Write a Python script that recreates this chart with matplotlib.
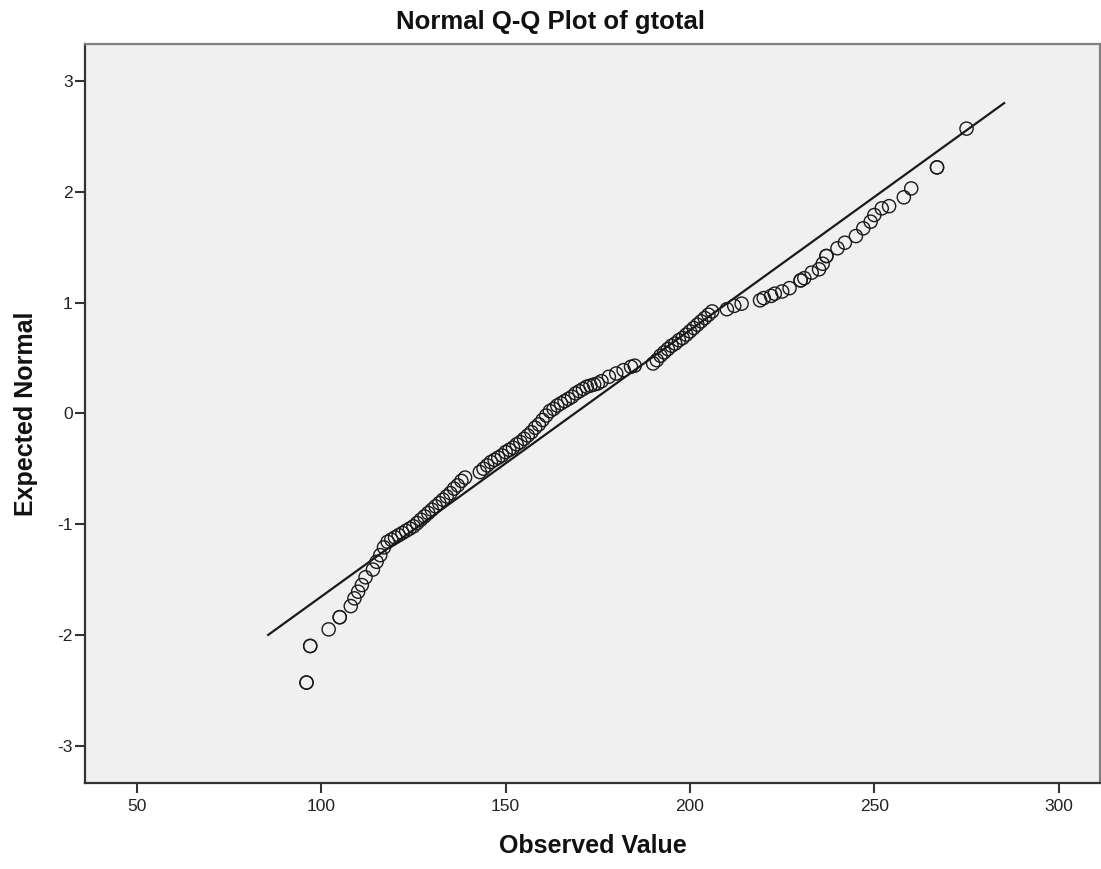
import matplotlib
matplotlib.use("Agg")
import matplotlib.pyplot as plt

observed = [96, 96, 97, 97, 102, 105, 105, 108, 109, 110, 111, 112, 114, 115, 116, 117,
            118, 119, 120, 121, 122, 123, 124, 125, 126, 127, 128, 129, 130, 131, 132, 133,
            134, 135, 136, 137, 138, 139,
            143, 144, 145, 146, 147, 148, 149, 150, 151, 152, 153, 154, 155, 156, 157, 158,
            159, 160, 161, 162, 163, 164, 165, 166, 167, 168, 169, 170, 171, 172, 173, 174,
            175, 176, 178, 180, 182, 184, 185,
            190, 191, 192, 193, 194, 195, 196, 197, 198, 199, 200, 201, 202, 203, 204, 205, 206,
            210, 212, 214,
            219, 220, 222, 223, 225, 227, 230, 230, 231, 233, 235, 236, 237, 237,
            240, 242, 245, 247, 249, 250, 252, 254, 258, 260, 267, 267, 275]
expected = [-2.43, -2.43, -2.10, -2.10, -1.95, -1.84, -1.84, -1.74, -1.67, -1.61, -1.55, -1.48, -1.41, -1.34, -1.28, -1.21,
            -1.16, -1.14, -1.12, -1.10, -1.08, -1.06, -1.04, -1.02, -0.99, -0.96, -0.93, -0.90, -0.87, -0.84, -0.81, -0.78,
            -0.75, -0.72, -0.68, -0.65, -0.61, -0.58,
            -0.53, -0.50, -0.47, -0.44, -0.42, -0.40, -0.38, -0.35, -0.33, -0.31, -0.28, -0.26, -0.23, -0.20, -0.17, -0.13,
            -0.10, -0.06, -0.02, 0.02, 0.04, 0.07, 0.09, 0.11, 0.13, 0.15, 0.18, 0.20, 0.22, 0.24, 0.25, 0.26,
            0.27, 0.29, 0.33, 0.36, 0.39, 0.42, 0.43,
            0.45, 0.48, 0.52, 0.55, 0.58, 0.61, 0.63, 0.66, 0.68, 0.71, 0.74, 0.77, 0.80, 0.83, 0.86, 0.89, 0.92,
            0.94, 0.97, 0.99,
            1.02, 1.04, 1.06, 1.08, 1.10, 1.13, 1.20, 1.20, 1.22, 1.27, 1.30, 1.35, 1.42, 1.42,
            1.49, 1.54, 1.60, 1.67, 1.73, 1.79, 1.85, 1.87, 1.95, 2.03, 2.22, 2.22, 2.57]

# Reference line end points (observed value, expected normal)
line_x = [85.6, 285.2]
line_y = [-2.00, 2.80]

title = "Normal Q-Q Plot of gtotal"
xlabel = "Observed Value"
ylabel = "Expected Normal"
xticks = [50, 100, 150, 200, 250, 300]
yticks = [-3, -2, -1, 0, 1, 2, 3]

plt.rcParams['font.family'] = ['Liberation Sans', 'DejaVu Sans']
plt.rcParams['axes.unicode_minus'] = False

fig = plt.figure(figsize=(11.01, 8.69), dpi=100)
ax = fig.add_axes([85.3 / 1101, 86.3 / 869, (1100 - 85.3) / 1101, (782.7 - 44.3) / 869])
ax.set_facecolor('#f0f0f0')

ax.plot(line_x, line_y, color='#1a1a1a', lw=1.6, zorder=2)
ax.scatter(observed, expected, s=90, facecolors='none', edgecolors='#1a1a1a',
           linewidths=1.0, zorder=3)

ax.set_xlim(36.0, 311.2)
ax.set_ylim(-3.334, 3.331)
ax.set_xticks(xticks)
ax.set_yticks(yticks)
ax.tick_params(axis='both', direction='out', length=7, width=1.5, color='#333333',
               labelsize=12.5, labelcolor='#222222')
ax.tick_params(axis='y', pad=2)
ax.tick_params(axis='x', pad=5)

for side in ['left', 'bottom']:
    ax.spines[side].set_color('#333333')
    ax.spines[side].set_linewidth(1.6)
for side in ['top', 'right']:
    ax.spines[side].set_color('#808080')
    ax.spines[side].set_linewidth(1.6)

fig.text(0.5, 1 - 22 / 869, title, fontsize=18.5, fontweight='bold', color='#111111',
         ha='center', va='center')
ax.set_xlabel(xlabel, fontsize=18, fontweight='bold', color='#111111', labelpad=14)
ax.set_ylabel(ylabel, fontsize=18, fontweight='bold', color='#111111', labelpad=14)

fig.savefig('out.png', dpi=100)
